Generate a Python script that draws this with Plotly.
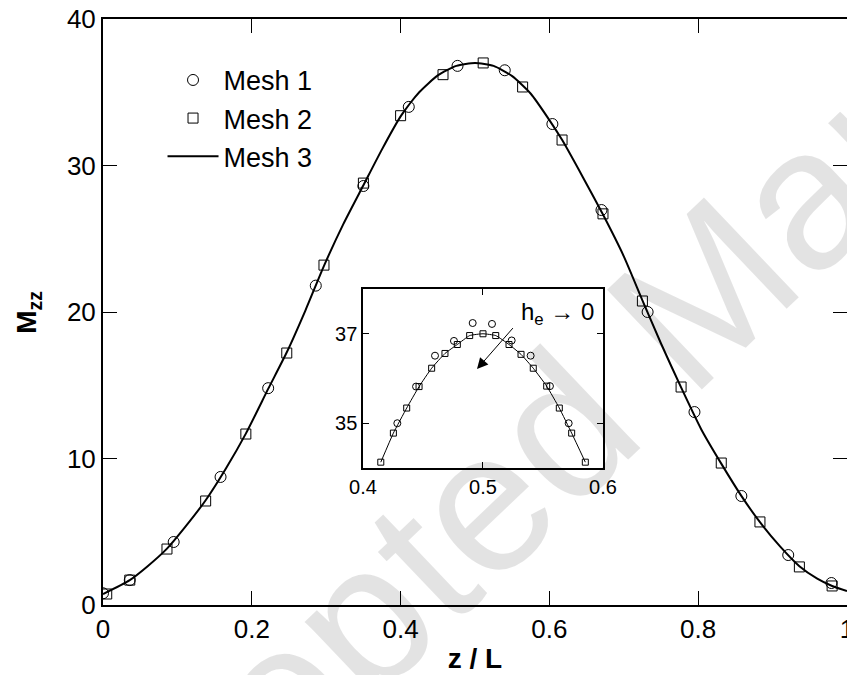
import plotly.graph_objects as go

# ---- main plot data ----
mesh1_x = [0.0, 0.036, 0.095, 0.158, 0.222, 0.286, 0.350, 0.411, 0.4765, 0.540,
           0.604, 0.670, 0.732, 0.795, 0.858, 0.921, 0.979]
mesh1_y = [0.8, 1.7, 4.3, 8.74, 14.8, 21.8, 28.6, 34.0, 36.8, 36.5,
           32.83, 26.96, 20.0, 13.17, 7.44, 3.41, 1.5]

mesh2_x = [0.005, 0.036, 0.086, 0.138, 0.192, 0.247, 0.297, 0.350, 0.400, 0.457,
           0.511, 0.564, 0.617, 0.672, 0.725, 0.777, 0.831, 0.883, 0.936, 0.980]
mesh2_y = [0.75, 1.7, 3.82, 7.1, 11.67, 17.2, 23.2, 28.8, 33.4, 36.2,
           37.0, 35.36, 31.74, 26.7, 20.75, 14.88, 9.69, 5.67, 2.6, 1.3]

mesh3_x = [0.0, 0.036, 0.06, 0.086, 0.11, 0.138, 0.165, 0.192, 0.222, 0.247,
           0.272, 0.297, 0.323, 0.35, 0.375, 0.40, 0.425, 0.45, 0.475, 0.50,
           0.525, 0.55, 0.575, 0.60, 0.617, 0.645, 0.672, 0.70, 0.725, 0.75,
           0.777, 0.804, 0.831, 0.858, 0.883, 0.91, 0.936, 0.96, 0.98, 1.0]
mesh3_y = [0.75, 1.7, 2.65, 3.85, 5.3, 7.15, 9.3, 11.7, 14.75, 17.25,
           20.1, 23.15, 26.0, 28.65, 31.1, 33.35, 35.0, 36.15, 36.8, 37.0,
           36.8, 36.1, 34.9, 33.1, 31.75, 29.2, 26.65, 23.8, 20.8, 17.85,
           14.85, 12.0, 9.65, 7.45, 5.65, 4.0, 2.65, 1.8, 1.3, 0.95]

# ---- inset (zoom around the peak) ----
inset_mesh1_x = [0.4286, 0.4442, 0.4600, 0.4758, 0.4914, 0.5075, 0.5239, 0.5397, 0.5558, 0.5714]
inset_mesh1_y = [35.0, 35.82, 36.51, 36.84, 37.24, 37.22, 36.85, 36.51, 35.83, 35.0]

inset_mesh2_x = [0.4148, 0.4253, 0.4364, 0.4467, 0.4572, 0.4683, 0.4786, 0.4889, 0.5000,
                 0.5106, 0.5217, 0.5317, 0.5419, 0.5531, 0.5636, 0.5739, 0.5853]
inset_mesh2_y = [34.13, 34.78, 35.34, 35.82, 36.23, 36.56, 36.76, 36.96, 37.0,
                 36.96, 36.76, 36.54, 36.23, 35.83, 35.34, 34.78, 34.13]

FONT = "Liberation Sans, Arial, Helvetica, sans-serif"

fig = go.Figure()

fig.add_trace(go.Scatter(
    x=mesh1_x, y=mesh1_y, mode="markers", name="Mesh 1", legendrank=1, legendgroup="a",
    marker=dict(symbol="circle-open", size=11, color="black", line=dict(width=1, color="black"))
))
fig.add_trace(go.Scatter(
    x=mesh2_x, y=mesh2_y, mode="markers", name="Mesh 2", legendrank=2, legendgroup="b",
    marker=dict(symbol="square-open", size=10, color="black", line=dict(width=1, color="black"))
))
fig.add_trace(go.Scatter(
    x=mesh3_x, y=mesh3_y, mode="lines", name="Mesh 3", legendrank=3, legendgroup="c",
    line=dict(color="black", width=2, shape="spline", smoothing=0.6)
))

# inset traces
fig.add_trace(go.Scatter(
    x=inset_mesh2_x, y=inset_mesh2_y, mode="lines", xaxis="x2", yaxis="y2", showlegend=False,
    line=dict(color="black", width=1, shape="spline", smoothing=0.4)
))
fig.add_trace(go.Scatter(
    x=inset_mesh1_x, y=inset_mesh1_y, mode="markers", xaxis="x2", yaxis="y2", showlegend=False,
    marker=dict(symbol="circle-open", size=7, color="black", line=dict(width=1, color="black"))
))
fig.add_trace(go.Scatter(
    x=inset_mesh2_x, y=inset_mesh2_y, mode="markers", xaxis="x2", yaxis="y2", showlegend=False,
    marker=dict(symbol="square-open", size=6, color="black", line=dict(width=1, color="black"))
))

axis_style = dict(
    ticks="inside", tickwidth=1, tickcolor="black", showline=True, linecolor="black",
    mirror="ticks", showgrid=False, zeroline=False, automargin=False,
)

fig.update_layout(
    width=847, height=675,
    margin=dict(l=103, r=0, t=19, b=70, autoexpand=False),
    paper_bgcolor="white", plot_bgcolor="rgba(0,0,0,0)",
    font=dict(family=FONT, size=26, color="black"),
    legend=dict(x=0.080, y=0.937, xanchor="left", yanchor="top",
                font=dict(size=27), itemwidth=51, tracegroupgap=0,
                bgcolor="rgba(0,0,0,0)"),
    xaxis=dict(axis_style, range=[0, 1], dtick=0.2, ticklen=14, linewidth=2,
               ticklabeloverflow="allow",
               title=dict(text="<b>z / L</b>", font=dict(size=28), standoff=5)),
    yaxis=dict(axis_style, range=[0, 40], dtick=10, ticklen=14, linewidth=2),
    xaxis2=dict(axis_style, domain=[0.3495, 0.672], anchor="y2", range=[0.4, 0.6],
                tickvals=[0.4, 0.5, 0.6], ticklen=6, linewidth=1.5,
                tickfont=dict(size=20)),
    yaxis2=dict(axis_style, domain=[0.2338, 0.5392], anchor="x2", range=[34, 38],
                tickvals=[35, 37], ticklen=6, linewidth=1.5,
                tickfont=dict(size=20)),
)

# y axis title (rotated), placed left of the tick labels
fig.add_annotation(x=-0.101, y=0.5, xref="paper", yref="paper", showarrow=False,
                   xanchor="center", yanchor="middle", textangle=-90,
                   text="<b>M<sub>zz</sub></b>", font=dict(size=28))

# inset annotation: h_e -> 0 with arrow
fig.add_annotation(x=0.5617, y=37.45, xref="x2", yref="y2", showarrow=False,
                   text="h<sub>e</sub> \u2192 0", font=dict(size=24))
fig.add_annotation(x=0.495, y=36.21, ax=0.526, ay=37.16, xref="x2", yref="y2",
                   axref="x2", ayref="y2", text="", showarrow=True,
                   arrowhead=2, arrowsize=2.2, arrowwidth=1, arrowcolor="black")

# watermark
fig.add_annotation(x=0.768, y=0.488, xref="paper", yref="paper", showarrow=False,
                   xanchor="center", yanchor="middle",
                   text="Accepted Manuscript", textangle=-43.6,
                   font=dict(size=200, color="rgba(0,0,0,0.11)"))

fig.write_html("out.html", config={"displayModeBar": False},
               post_script="document.body.style.margin='0px';")
